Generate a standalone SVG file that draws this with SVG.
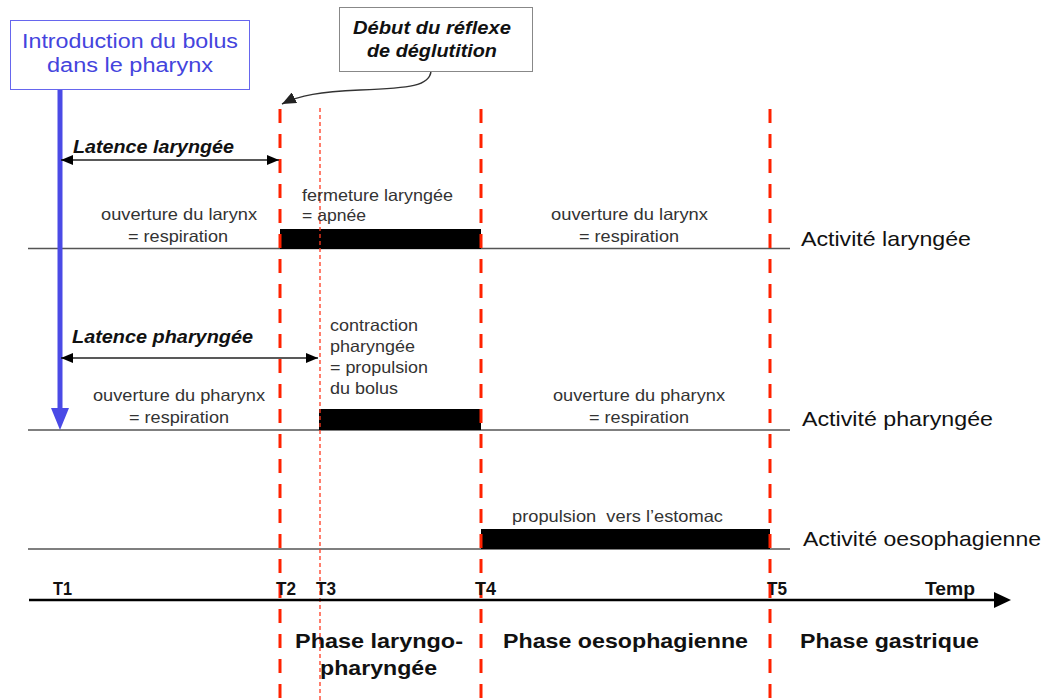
<svg xmlns="http://www.w3.org/2000/svg" width="1046" height="700" viewBox="0 0 1046 700">
<style>
text{font-family:"Liberation Sans",Arial,sans-serif;fill:#222}
.s{font-size:16.5px;fill:#333}
.act{font-size:21px;fill:#111}
.bi{font-size:17.5px;font-weight:bold;font-style:italic;fill:#111}
.b{font-size:19px;font-weight:bold;fill:#111}
.ph{font-size:21px;font-weight:bold;fill:#111}
.blue{font-size:20px;fill:#4444dd}
.track{stroke:#555;stroke-width:1.5}
.bar{fill:#000}
.red{stroke:#ff2200;stroke-width:3;stroke-dasharray:14 11;fill:none}
.red2{stroke:#ff3a20;stroke-width:1.3;stroke-dasharray:4 3;fill:none}
</style>
<defs>
<marker id="ah" viewBox="0 0 12 10" refX="12" refY="5" markerWidth="12" markerHeight="10" markerUnits="userSpaceOnUse" orient="auto-start-reverse">
<path d="M0,0 L12,5 L0,10 Z" fill="#000"/>
</marker>
<marker id="ahg" viewBox="0 0 14 12" refX="14" refY="6" markerWidth="14" markerHeight="12" markerUnits="userSpaceOnUse" orient="auto">
<path d="M0,0 L14,6 L0,12 Z" fill="#222"/>
</marker>
</defs>

<g id="tracks">
<line class="track" x1="28" y1="248.5" x2="790" y2="248.5"/>
<line class="track" x1="28" y1="430" x2="790" y2="430"/>
<line class="track" x1="28" y1="549" x2="790" y2="549"/>
</g>

<g id="bars">
<rect class="bar" x="280" y="229" width="201" height="20"/>
<rect class="bar" x="319" y="409" width="162" height="21"/>
<rect class="bar" x="481" y="529" width="289" height="20"/>
</g>

<g id="markers">
<line class="red" x1="280" y1="109" x2="280" y2="700"/>
<line class="red2" x1="320" y1="108" x2="320" y2="700"/>
<line class="red" x1="481" y1="109" x2="481" y2="700"/>
<line class="red" x1="770" y1="109" x2="770" y2="700"/>
</g>

<g id="connectors">
<line x1="60" y1="88" x2="60" y2="412" stroke="#4a4ae6" stroke-width="5"/>
<polygon points="51,408 69,408 60,430" fill="#4a4ae6"/>
<line x1="61" y1="160" x2="279" y2="160" stroke="#222" stroke-width="1.5" marker-start="url(#ah)" marker-end="url(#ah)"/>
<line x1="61" y1="358" x2="318" y2="358" stroke="#222" stroke-width="1.5" marker-start="url(#ah)" marker-end="url(#ah)"/>
<path d="M431,71 C430,86 410,88 360,90 C320,92 300,95 282,104" fill="none" stroke="#333" stroke-width="1.5" marker-end="url(#ahg)"/>
<line x1="29" y1="600" x2="997" y2="600" stroke="#000" stroke-width="2.5"/>
<polygon points="994,592 1011,600 994,608" fill="#000"/>
</g>

<g id="node-intro">
<rect x="10.5" y="20.5" width="239" height="69" fill="#fff" stroke="#6666ee" stroke-width="1"/>
<text class="blue" x="130" y="48" text-anchor="middle" textLength="216" lengthAdjust="spacingAndGlyphs">Introduction du bolus</text>
<text class="blue" x="130" y="72" text-anchor="middle" textLength="166" lengthAdjust="spacingAndGlyphs">dans le pharynx</text>
</g>

<g id="node-debut">
<rect x="339.5" y="7.5" width="193" height="64" fill="#fff" stroke="#888" stroke-width="1"/>
<text class="bi" x="432" y="34" text-anchor="middle" textLength="158" lengthAdjust="spacingAndGlyphs">Début du réflexe</text>
<text class="bi" x="432" y="57" text-anchor="middle" textLength="130" lengthAdjust="spacingAndGlyphs">de déglutition</text>
</g>

<g id="node-latences">
<text class="bi" x="73" y="153" textLength="161" lengthAdjust="spacingAndGlyphs">Latence laryngée</text>
<text class="bi" x="72" y="343" textLength="181" lengthAdjust="spacingAndGlyphs">Latence pharyngée</text>
</g>

<g id="node-laryngee">
<text class="s" x="101" y="220" textLength="156" lengthAdjust="spacingAndGlyphs">ouverture du larynx</text>
<text class="s" x="128" y="242" textLength="100" lengthAdjust="spacingAndGlyphs">= respiration</text>
<text class="s" x="302" y="201" textLength="151" lengthAdjust="spacingAndGlyphs">fermeture laryngée</text>
<text class="s" x="302" y="221" textLength="64" lengthAdjust="spacingAndGlyphs">= apnée</text>
<text class="s" x="551" y="220" textLength="157" lengthAdjust="spacingAndGlyphs">ouverture du larynx</text>
<text class="s" x="579" y="242" textLength="100" lengthAdjust="spacingAndGlyphs">= respiration</text>
<text class="act" x="801" y="246" textLength="170" lengthAdjust="spacingAndGlyphs">Activité laryngée</text>
</g>

<g id="node-pharyngee">
<text class="s" x="330" y="331" textLength="88" lengthAdjust="spacingAndGlyphs">contraction</text>
<text class="s" x="330" y="352" textLength="85" lengthAdjust="spacingAndGlyphs">pharyngée</text>
<text class="s" x="330" y="373" textLength="98" lengthAdjust="spacingAndGlyphs">= propulsion</text>
<text class="s" x="330" y="394" textLength="68" lengthAdjust="spacingAndGlyphs">du bolus</text>
<text class="s" x="93" y="401" textLength="172" lengthAdjust="spacingAndGlyphs">ouverture du pharynx</text>
<text class="s" x="129" y="423" textLength="100" lengthAdjust="spacingAndGlyphs">= respiration</text>
<text class="s" x="553" y="401" textLength="172" lengthAdjust="spacingAndGlyphs">ouverture du pharynx</text>
<text class="s" x="589" y="423" textLength="100" lengthAdjust="spacingAndGlyphs">= respiration</text>
<text class="act" x="802" y="426" textLength="191" lengthAdjust="spacingAndGlyphs">Activité pharyngée</text>
</g>

<g id="node-oesophage">
<text class="s" x="512" y="522" textLength="211" lengthAdjust="spacingAndGlyphs" xml:space="preserve">propulsion  vers l’estomac</text>
<text class="act" x="803" y="546" textLength="238" lengthAdjust="spacingAndGlyphs">Activité oesophagienne</text>
</g>

<g id="node-axis">
<text class="b" x="53" y="595" textLength="19" lengthAdjust="spacingAndGlyphs">T1</text>
<text class="b" x="276" y="595" textLength="20" lengthAdjust="spacingAndGlyphs">T2</text>
<text class="b" x="316" y="595" textLength="20" lengthAdjust="spacingAndGlyphs">T3</text>
<text class="b" x="475" y="595" textLength="21" lengthAdjust="spacingAndGlyphs">T4</text>
<text class="b" x="767" y="595" textLength="20" lengthAdjust="spacingAndGlyphs">T5</text>
<text class="b" x="925" y="595" textLength="50" lengthAdjust="spacingAndGlyphs">Temp</text>
</g>

<g id="node-phases">
<text class="ph" x="295" y="648" textLength="168" lengthAdjust="spacingAndGlyphs">Phase laryngo-</text>
<text class="ph" x="320" y="675" textLength="117" lengthAdjust="spacingAndGlyphs">pharyngée</text>
<text class="ph" x="503" y="648" textLength="245" lengthAdjust="spacingAndGlyphs">Phase oesophagienne</text>
<text class="ph" x="800" y="648" textLength="179" lengthAdjust="spacingAndGlyphs">Phase gastrique</text>
</g>
</svg>
